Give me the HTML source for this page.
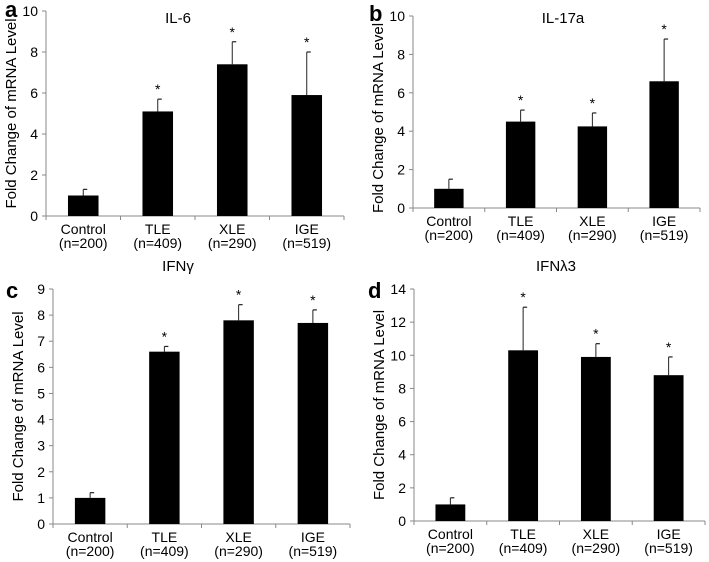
<!DOCTYPE html>
<html><head><meta charset="utf-8"><style>
body{margin:0;background:#fff;}
svg{display:block;font-family:"Liberation Sans",Arial,sans-serif;}
</style></head><body>
<svg id="fig" width="709" height="562" viewBox="0 0 709 562"></svg>
<script>
const categories = ["Control","TLE","XLE","IGE"];
const groupSizes = ["(n=200)","(n=409)","(n=290)","(n=519)"];
const il6Values = [1.0, 5.1, 7.4, 5.9];
const il6Errors = [0.3, 0.6, 1.1, 2.1];
const il17Values = [1.0, 4.5, 4.25, 6.6];
const il17Errors = [0.5, 0.6, 0.7, 2.2];
const ifngValues = [1.0, 6.6, 7.8, 7.7];
const ifngErrors = [0.2, 0.2, 0.6, 0.5];
const ifnl3Values = [1.0, 10.3, 9.9, 8.8];
const ifnl3Errors = [0.4, 2.6, 0.8, 1.1];
const il6Ticks = [0,2,4,6,8,10];
const il17Ticks = [0,2,4,6,8,10];
const ifngTicks = [0,1,2,3,4,5,6,7,8,9];
const ifnl3Ticks = [0,2,4,6,8,10,12,14];
const significant = [false,true,true,true];

const NS="http://www.w3.org/2000/svg";
const svg=document.getElementById('fig');
function mk(tag,attrs,parent){const e=document.createElementNS(NS,tag);for(const k in attrs)e.setAttribute(k,attrs[k]);(parent||svg).appendChild(e);return e;}

function panel(id,letter,title,vals,errs,ticks,L){
  const g=mk('g',{});
  
  
  const ymax=ticks[ticks.length-1];
  const y=v=>L.y0-(v/ymax)*(L.y0-L.y1);
  const slot=(L.x1-L.x0)/categories.length;
  const x=i=>L.x0+slot*(i+0.5);
  const bw=slot*0.41;
  let t=mk('text',{x:L.lx,y:L.ly,'font-size':22,'font-weight':'bold'},g);t.textContent=letter;
  
  t=mk('text',{x:L.tx,y:L.ty,'font-size':15,'text-anchor':'middle'},g);t.textContent=title;
  
  t=mk('text',{x:0,y:0,'font-size':15,'text-anchor':'middle',transform:`translate(${L.x0-30},${(L.y0+L.y1)/2+L.tOff}) rotate(-90)`},g);
  t.textContent='Fold Change of mRNA Level';
  
  let ax=mk('line',{x1:L.x0,y1:L.y1,x2:L.x0,y2:L.y0,stroke:'#888','stroke-width':1},g);
  
  ax=mk('line',{x1:L.x0,y1:L.y0,x2:L.x1,y2:L.y0,stroke:'#888','stroke-width':1},g);
  
  ticks.forEach(v=>{
    mk('line',{x1:L.x0-4,x2:L.x0,y1:y(v),y2:y(v),stroke:'#888'},g);
    const tl=mk('text',{x:L.x0-8,y:y(v)+5,'font-size':14,'text-anchor':'end'},g);tl.textContent=v;
    
  });
  for(let i=0;i<=categories.length;i++){mk('line',{x1:L.x0+slot*i,x2:L.x0+slot*i,y1:L.y0,y2:L.y0+4,stroke:'#888'},g);}
  categories.forEach((c,i)=>{
    const top=y(vals[i]+errs[i]);
    mk('line',{x1:x(i),x2:x(i),y1:y(vals[i]),y2:top,stroke:'#222','stroke-width':1},g);
    mk('line',{x1:x(i),x2:x(i)+4,y1:top,y2:top,stroke:'#222','stroke-width':1.2},g);
    const b=mk('rect',{x:x(i)-bw/2,y:y(vals[i]),width:bw,height:L.y0-y(vals[i]),fill:'#000'},g);
    
    if(significant[i]){const s=mk('text',{x:x(i),y:top-5,'font-size':14,'text-anchor':'middle'},g);s.textContent='*';
      }
    let l=mk('text',{x:x(i),y:L.y0+18,'font-size':14,'text-anchor':'middle'},g);l.textContent=c;
    
    l=mk('text',{x:x(i),y:L.y0+32,'font-size':14,'text-anchor':'middle'},g);l.textContent=groupSizes[i];
    
  });
}
panel('a','a','IL-6',il6Values,il6Errors,il6Ticks,{x0:46,x1:344,y0:216,y1:11,lx:5,ly:17,tx:178,ty:23,tOff:0});
panel('b','b','IL-17a',il17Values,il17Errors,il17Ticks,{x0:413,x1:700,y0:208,y1:16,lx:369,ly:21,tx:563,ty:23,tOff:6});
panel('c','c','IFNγ',ifngValues,ifngErrors,ifngTicks,{x0:53,x1:350,y0:524,y1:289,lx:6,ly:298,tx:178,ty:271,tOff:0});
panel('d','d','IFNλ3',ifnl3Values,ifnl3Errors,ifnl3Ticks,{x0:414,x1:705,y0:521,y1:289,lx:368,ly:298,tx:556,ty:271,tOff:0});
</script>
</body></html>
